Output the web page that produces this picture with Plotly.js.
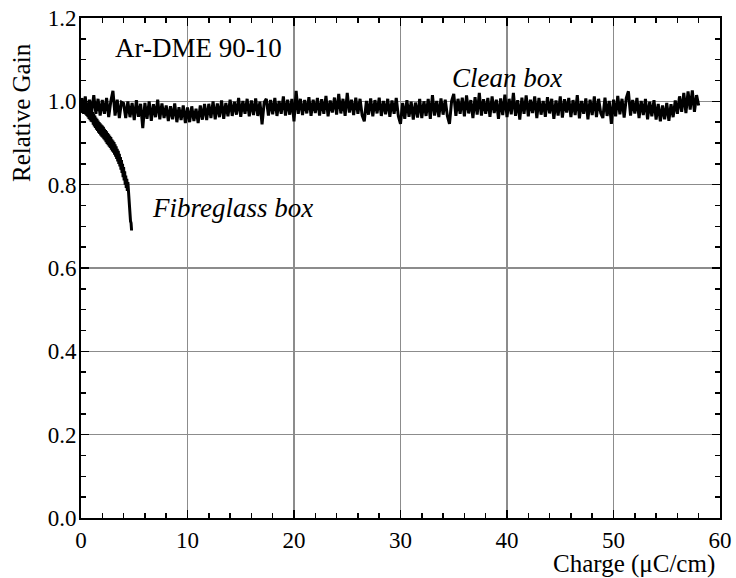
<!DOCTYPE html>
<html>
<head>
<meta charset="utf-8">
<script src="https://cdn.plot.ly/plotly-3.0.1.min.js"></script>
<style>html,body{margin:0;padding:0;background:#fff;}#chart{width:736px;height:578px;}</style>
</head>
<body>
<div id="chart"></div>
<script>
// Clean box: charge from 0 to 58 uC/cm, step 0.2
const cleanStart = 0, cleanStep = 0.2;
const cleanGain = [
1.008,0.972,1.012,0.968,1.004,0.975,1.015,0.970,1.006,0.966,
1.003,0.970,1.008,0.962,1.000,1.025,0.966,1.004,0.960,0.998,
0.995,0.960,1.000,0.962,0.996,0.955,1.003,0.963,0.994,0.936,
0.996,0.958,1.000,0.953,0.993,0.962,1.004,0.957,0.995,0.960,
0.990,0.953,0.988,0.957,0.995,0.950,0.986,0.955,0.990,0.948,
0.985,0.950,0.988,0.953,0.982,0.948,0.990,0.956,0.994,0.955,
0.994,0.960,1.000,0.957,0.995,0.962,1.002,0.958,0.996,0.964,
1.004,0.965,0.999,0.968,1.008,0.963,1.001,0.970,1.006,0.964,
1.002,0.967,1.007,0.965,0.999,0.945,0.997,1.006,0.966,1.003,
0.969,1.008,0.965,1.001,0.970,1.012,0.966,1.004,0.968,1.006,
0.952,1.025,0.970,1.006,0.967,1.003,0.971,1.010,0.965,1.004,
0.972,1.008,0.966,1.005,0.970,1.013,0.964,1.002,0.973,1.009,
0.968,1.018,0.971,1.006,0.965,1.020,0.973,1.004,0.967,1.009,
0.970,1.006,0.966,0.952,1.001,0.968,1.007,0.964,1.003,0.971,
1.009,0.965,1.001,0.969,1.006,0.963,1.002,0.970,1.008,0.964,
0.946,0.996,0.958,1.003,0.963,0.999,0.956,0.997,0.961,1.006,
0.960,1.000,0.965,1.006,0.958,1.015,0.966,1.001,0.962,1.007,
0.968,1.004,0.965,0.946,1.001,1.018,0.965,1.006,0.970,1.009,
0.964,1.014,0.971,1.003,0.960,1.010,0.968,1.020,0.966,1.005,
0.970,1.008,0.963,1.012,0.972,1.004,0.958,1.007,0.967,1.016,
0.962,1.006,0.969,1.020,0.965,1.003,0.956,1.009,0.970,1.014,
0.964,1.004,0.972,1.012,0.960,1.008,0.968,1.001,0.963,1.010,
0.971,1.006,0.958,1.002,0.966,1.012,0.961,1.005,0.973,1.008,
0.962,1.003,0.967,1.015,0.959,1.001,0.970,1.007,0.957,1.004,
0.967,1.012,0.962,1.006,0.972,0.960,1.009,0.965,1.001,0.946,
1.004,0.964,1.013,0.969,1.006,0.961,1.008,1.024,0.966,1.003,
0.971,1.008,0.960,1.001,0.967,1.006,0.957,0.999,0.964,1.003,
0.956,0.994,0.952,0.990,0.957,0.996,0.953,0.993,0.962,1.002,
0.970,1.012,0.975,1.020,0.972,1.024,0.980,1.026,0.975,1.015,
0.990
];
// Fibreglass box: charge from 0 to 4.75 uC/cm, step 0.05
const fibreStart = 0, fibreStep = 0.05;
const fibreGain = [
1.005,0.975,1.008,0.972,1.002,0.970,1.004,0.975,0.998,0.968,
0.995,0.965,0.992,0.962,0.990,0.958,0.986,0.955,0.982,0.951,
0.978,0.950,0.974,0.944,0.970,0.940,0.966,0.936,0.961,0.932,
0.958,0.929,0.954,0.925,0.950,0.922,0.947,0.918,0.944,0.915,
0.942,0.913,0.939,0.909,0.934,0.906,0.931,0.902,0.928,0.898,
0.924,0.895,0.921,0.891,0.917,0.888,0.914,0.884,0.909,0.880,
0.906,0.877,0.902,0.872,0.897,0.867,0.892,0.862,0.886,0.856,
0.881,0.850,0.874,0.844,0.866,0.836,0.859,0.828,0.850,0.818,
0.842,0.810,0.832,0.800,0.822,0.792,0.814,0.785,0.806,0.780,
0.775,0.745,0.738,0.712,0.708,0.690
];
const xTickVals = [0,10,20,30,40,50,60];
const xTickText = ["0","10","20","30","40","50","60"];
const yTickVals = [0,0.2,0.4,0.6,0.8,1.0,1.2];
const yTickText = ["0.0","0.2","0.4","0.6","0.8","1.0","1.2"];
const labels = {gas:"Ar-DME 90-10", clean:"Clean box", fibre:"Fibreglass box", xTitle:"Charge (\u03bcC/cm)", yTitle:"Relative Gain"};

const cleanX = cleanGain.map((v,i)=>+(cleanStart + i*cleanStep).toFixed(3));
const fibreX = fibreGain.map((v,i)=>+(fibreStart + i*fibreStep).toFixed(3));

const serif = "'Liberation Serif', 'Times New Roman', serif";
const traces = [
  {x: cleanX, y: cleanGain, type:"scatter", mode:"lines", line:{color:"#000", width:3}, hoverinfo:"skip"},
  {x: fibreX, y: fibreGain, type:"scatter", mode:"lines", line:{color:"#000", width:3}, hoverinfo:"skip"}
];
const axisCommon = {
  showline:true, linecolor:"#000", linewidth:2, mirror:"allticks",
  ticks:"inside", ticklen:8, tickwidth:1.5, tickcolor:"#000",
  showgrid:true, gridcolor:"#8c8c8c", gridwidth:1.5,
  zeroline:false, tickfont:{family:serif, size:23, color:"#000"}
};
const layout = {
  width:736, height:578,
  margin:{l:81, r:16, t:18, b:60},
  paper_bgcolor:"#fff", plot_bgcolor:"#fff",
  showlegend:false,
  font:{family:serif, color:"#000"},
  xaxis:Object.assign({}, axisCommon, {
    range:[0,60], tickmode:"array", tickvals:xTickVals, ticktext:xTickText,
    minor:{dtick:2, ticks:"inside", ticklen:5, tickwidth:1.5, tickcolor:"#000", showgrid:false},
    ticklabelstandoff:0
  }),
  yaxis:Object.assign({}, axisCommon, {
    range:[0,1.2], tickmode:"array", tickvals:yTickVals, ticktext:yTickText,
    minor:{dtick:0.05, ticks:"inside", ticklen:5, tickwidth:1.5, tickcolor:"#000", showgrid:false},
    ticklabelstandoff:-2
  }),
  annotations:[
    {text:labels.gas, x:3.0, y:1.128, xref:"x", yref:"y", xanchor:"left", yanchor:"middle", showarrow:false, font:{family:serif, size:27, color:"#000"}},
    {text:"<i>"+labels.clean+"</i>", x:40.0, y:1.056, xref:"x", yref:"y", xanchor:"center", yanchor:"middle", showarrow:false, font:{family:serif, size:27, color:"#000"}},
    {text:"<i>"+labels.fibre+"</i>", x:14.2, y:0.744, xref:"x", yref:"y", xanchor:"center", yanchor:"middle", showarrow:false, font:{family:serif, size:27, color:"#000"}},
    {text:labels.xTitle, x:1, y:0, xref:"paper", yref:"paper", showarrow:false, xanchor:"right", yanchor:"middle", font:{family:serif, size:25, color:"#000"}},
    {text:labels.yTitle, textangle:-90, x:0, y:1, xref:"paper", yref:"paper", showarrow:false, xanchor:"center", yanchor:"middle", font:{family:serif, size:25, color:"#000"}}
  ]
};
// position titles in paper fractions
const pw = 736-81-16, ph = 578-18-60;
layout.annotations[3].x = (717-81)/pw; layout.annotations[3].y = (518-564)/ph;
layout.annotations[4].x = (22-81)/pw; layout.annotations[4].y = (518-113)/ph;
Plotly.newPlot("chart", traces, layout, {staticPlot:true, displayModeBar:false});
</script>
</body>
</html>
